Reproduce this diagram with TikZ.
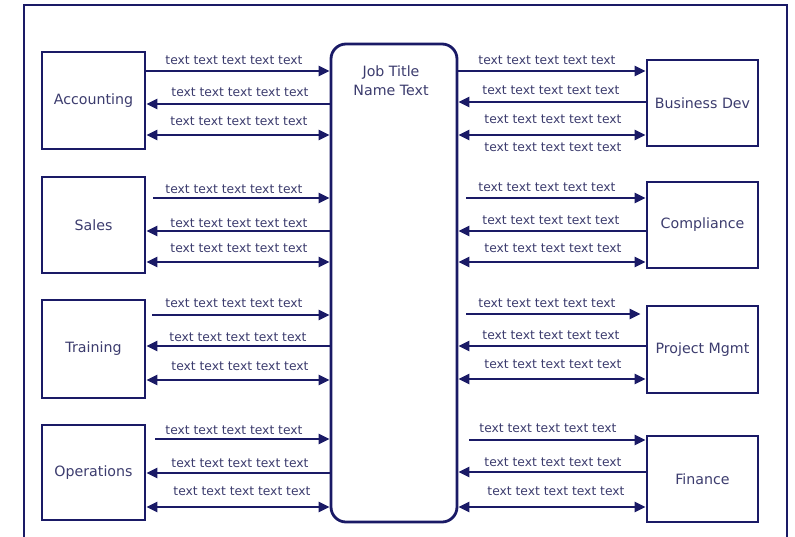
\documentclass[tikz,border=0pt]{standalone}
\usepackage{fontspec}
\setmainfont{DejaVu Sans}
\usetikzlibrary{arrows.meta}
\definecolor{navy}{HTML}{1A1A66}
\definecolor{txt}{HTML}{3C3C6E}
\tikzset{
  box/.style={draw=navy, line width=2.8pt, fill=white, inner sep=0pt, font=\fontsize{14.2}{16}\selectfont, text=txt},
  centerbox/.style={draw=navy, line width=2.8pt, rounded corners=15pt, minimum width=126pt, minimum height=478pt, inner sep=0pt},
  lbl/.style={font=\fontsize{12.3}{14}\selectfont, text=txt, inner sep=0pt},
  con/.style={draw=navy, line width=2.6pt},
  fwd/.style={con, -{Triangle[length=11pt,width=10pt]}},
  bwd/.style={con, {Triangle[length=11pt,width=10pt]}-},
  both/.style={con, {Triangle[length=11pt,width=10pt]}-{Triangle[length=11pt,width=10pt]}}
}
\begin{document}
\begin{tikzpicture}[x=1pt,y=-1pt]
\useasboundingbox (0,0) rectangle (795,536);
\fill[white] (0,0) rectangle (795,536);
\draw[navy, line width=2.6pt] (24,545) -- (24,5) -- (787,5) -- (787,545);

\node[centerbox] (job) at (394,283) {};
\node[lbl, font=\fontsize{14.2}{19}\selectfont, align=center] (jobt) at (391,81) {Job Title\\Name Text};

% left boxes
\node[box, minimum width=103pt, minimum height=97pt] (acc) at (93.5,100.5) {Accounting};
\node[box, minimum width=103pt, minimum height=96pt] (sal) at (93.5,225) {Sales};
\node[box, minimum width=103pt, minimum height=98pt] (tra) at (93.5,349) {Training};
\node[box, minimum width=103pt, minimum height=95pt] (ope) at (93.5,472.5) {Operations};
% right boxes
\node[box, minimum width=111pt, minimum height=86pt] (bus) at (702.5,103) {Business Dev};
\node[box, minimum width=111pt, minimum height=86pt] (com) at (702.5,225) {Compliance};
\node[box, minimum width=111pt, minimum height=87pt] (pro) at (702.5,349.5) {Project Mgmt};
\node[box, minimum width=111pt, minimum height=86pt] (fin) at (702.5,479) {Finance};

% left arrows
\draw[fwd] (acc.east |- 0,71) -- (job.west |- 0,71);
\draw[bwd] (acc.east |- 0,104) -- (job.west |- 0,104);
\draw[both] (acc.east |- 0,135) -- (job.west |- 0,135);
\draw[fwd] ([xshift=7pt]sal.east |- 0,198) -- (job.west |- 0,198);
\draw[bwd] (sal.east |- 0,231) -- (job.west |- 0,231);
\draw[both] (sal.east |- 0,262) -- (job.west |- 0,262);
\draw[fwd] ([xshift=6pt]tra.east |- 0,315) -- (job.west |- 0,315);
\draw[bwd] (tra.east |- 0,346) -- (job.west |- 0,346);
\draw[both] (tra.east |- 0,380) -- (job.west |- 0,380);
\draw[fwd] ([xshift=9pt]ope.east |- 0,439) -- (job.west |- 0,439);
\draw[bwd] (ope.east |- 0,473) -- (job.west |- 0,473);
\draw[both] (ope.east |- 0,507) -- (job.west |- 0,507);
% right arrows
\draw[fwd] (job.east |- 0,71) -- (bus.west |- 0,71);
\draw[bwd] (job.east |- 0,102) -- (bus.west |- 0,102);
\draw[both] (job.east |- 0,135) -- (bus.west |- 0,135);
\draw[fwd] ([xshift=8pt]job.east |- 0,198) -- (com.west |- 0,198);
\draw[bwd] (job.east |- 0,231) -- (com.west |- 0,231);
\draw[both] (job.east |- 0,262) -- (com.west |- 0,262);
\draw[fwd] ([xshift=8pt]job.east |- 0,314) -- ([xshift=-5pt]pro.west |- 0,314);
\draw[bwd] (job.east |- 0,346) -- (pro.west |- 0,346);
\draw[both] (job.east |- 0,379) -- (pro.west |- 0,379);
\draw[fwd] ([xshift=11pt]job.east |- 0,440) -- (fin.west |- 0,440);
\draw[bwd] (job.east |- 0,472) -- (fin.west |- 0,472);
\draw[both] (job.east |- 0,507) -- (fin.west |- 0,507);

% labels
\foreach \n/\x/\y in {a1/234/60, a2/240/92, a3/239/121, s1/234/189, s2/239/223, s3/239/248,
  t1/234/303, t2/238/337, t3/240/366, o1/234/430, o2/240/463, o3/242/491,
  b1/547/60, b2/551/90, b3/553/119, b4/553/147, c1/547/187, c2/551/220, c3/553/248,
  p1/547/303, p2/551/335, p3/553/364, f1/548/428, f2/553/462, f3/556/491}
  \node[lbl] (l\n) at (\x,\y) {text text text text text};
\end{tikzpicture}
\end{document}
